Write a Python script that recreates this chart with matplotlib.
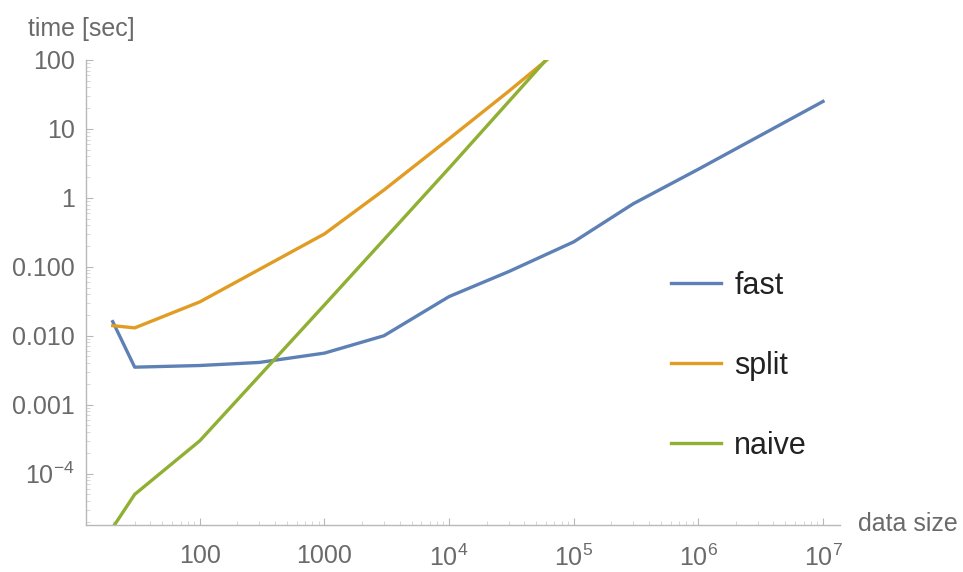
import matplotlib
matplotlib.use("Agg")
import matplotlib.pyplot as plt
from matplotlib.ticker import LogLocator, FixedLocator, FixedFormatter, NullFormatter

plt.rcParams['font.family'] = ['Liberation Sans', 'DejaVu Sans']
plt.rcParams['mathtext.fontset'] = 'custom'
plt.rcParams['mathtext.rm'] = 'Liberation Sans'

# benchmark timings (seconds) vs data size
sizes_fast = [20, 30, 100, 300, 1000, 3000, 1e4, 3e4, 1e5, 3e5, 1e6, 1e7]
time_fast = [0.016, 0.0035, 0.0037, 0.0041, 0.0056, 0.010, 0.037, 0.085, 0.23, 0.82, 2.6, 25]

sizes_split = [20, 30, 100, 1000, 3000, 1e4, 3e4, 1e5]
time_split = [0.014, 0.013, 0.031, 0.30, 1.3, 7.2, 35, 210]

sizes_naive = [20, 30, 100, 1000, 1e4, 1e5]
time_naive = [1.65e-5, 5e-5, 3.0e-4, 0.028, 2.7, 280]

y_ticks = [1e-4, 1e-3, 1e-2, 1e-1, 1, 10, 100]
y_labels = [r'$10^{-4}$', '0.001', '0.010', '0.100', '1', '10', '100']
x_ticks = [100, 1000, 1e4, 1e5, 1e6, 1e7]
x_labels = ['100', '1000', r'$10^{4}$', r'$10^{5}$', r'$10^{6}$', r'$10^{7}$']

fig = plt.figure(figsize=(9.63, 5.72), dpi=100)
ax = fig.add_axes([0.0893, 0.0822, 0.783, 0.813])

ax.plot(sizes_fast, time_fast, color='#5E81B5', lw=2.4, label='fast')
ax.plot(sizes_split, time_split, color='#E19C24', lw=2.4, label='split')
ax.plot(sizes_naive, time_naive, color='#8FB032', lw=2.4, label='naive')

ax.set_xscale('log')
ax.set_yscale('log')
ax.set_xlim(12.2, 1.37e7)
ax.set_ylim(1.8e-5, 100)

grey = '#b8b8b8'
for s in ['top', 'right']:
    ax.spines[s].set_visible(False)
for s in ['left', 'bottom']:
    ax.spines[s].set_color(grey)
    ax.spines[s].set_linewidth(1.0)

ax.yaxis.set_major_locator(FixedLocator(y_ticks))
ax.yaxis.set_major_formatter(FixedFormatter(y_labels))
ax.xaxis.set_major_locator(FixedLocator(x_ticks))
ax.xaxis.set_major_formatter(FixedFormatter(x_labels))
ax.xaxis.set_minor_locator(LogLocator(base=10, subs=range(2, 10)))
ax.yaxis.set_minor_locator(LogLocator(base=10, subs=range(2, 10)))
ax.xaxis.set_minor_formatter(NullFormatter())
ax.yaxis.set_minor_formatter(NullFormatter())
ax.tick_params(which='major', direction='in', length=5, width=0.8, color=grey,
               labelsize=18, labelcolor='#6a6a6a')
ax.tick_params(axis='y', which='major', pad=8)
ax.tick_params(axis='x', which='major', pad=14)
ax.tick_params(which='minor', direction='in', length=3, width=0.6, color='#d0d0d0')

fig.text(0.029, 0.949, 'time [sec]', fontsize=18, color='#6a6a6a', ha='left', va='center')
fig.text(0.891, 0.084, 'data size', fontsize=18, color='#6a6a6a', ha='left', va='center')

leg = ax.legend(loc='center left', bbox_to_anchor=(0.739, 0.342), frameon=False, fontsize=22,
                handlelength=1.63, handletextpad=0.45, labelspacing=1.64)
for t in leg.get_texts():
    t.set_color('#222222')

fig.savefig('out.png', dpi=100)
